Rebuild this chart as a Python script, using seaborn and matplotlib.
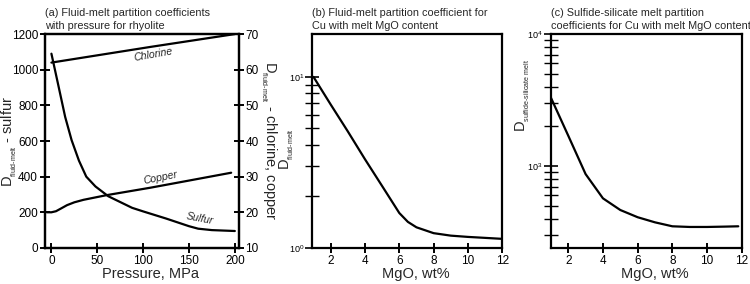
"""
Partition coefficients for sulfur, chlorine and copper (three panels).
"""

import matplotlib
matplotlib.use("Agg")
import matplotlib.pyplot as plt
from matplotlib import font_manager
import seaborn as sns
from matplotlib.ticker import LogLocator, NullFormatter

# panel (a): fluid-melt partition coefficients vs pressure (rhyolite)
pressure_sulfur = [0, 7, 15, 22, 30, 38, 48, 62, 88, 100, 125, 150, 160, 175, 200]
d_sulfur = [1090, 925, 735, 605, 490, 400, 345, 290, 225, 205, 165, 122, 108, 100, 95]

pressure_chlorine = [0, 108, 200]
d_chlorine = [62, 66.4, 70]

pressure_copper = [-5, 0, 5, 10, 17, 25, 35, 60, 108, 150, 196]
d_copper = [20, 20, 20.3, 21, 22, 22.8, 23.5, 24.8, 26.9, 28.9, 31.1]

# panel (b): fluid-melt D for Cu vs melt MgO
mgo_fluid = [1, 2, 3, 4, 5, 6, 6.5, 7, 8, 9, 10, 11, 12]
d_fluid_cu = [10, 6.9, 4.8, 3.3, 2.3, 1.6, 1.42, 1.32, 1.22, 1.18, 1.16, 1.145, 1.13]

# panel (c): sulfide-silicate melt D for Cu vs melt MgO
mgo_sulfide = [1, 2, 3, 4, 5, 6, 7, 8, 9, 10, 11, 11.8]
d_sulfide_cu = [3300, 1700, 870, 570, 465, 410, 375, 350, 346, 346, 348, 350]

titles = ["(a) Fluid-melt partition coefficients\nwith pressure for rhyolite",
          "(b) Fluid-melt partition coefficient for\nCu with melt MgO content",
          "(c) Sulfide-silicate melt partition\ncoefficients for Cu with melt MgO content"]

sns.set_theme(style="ticks")
plt.rcParams["font.family"] = ["Liberation Sans", "DejaVu Sans"]

installed = {f.name for f in font_manager.fontManager.ttflist}
LABEL_FONT = "Liberation Sans Narrow" if "Liberation Sans Narrow" in installed else "Liberation Sans"
LABEL_SIZE = 12.5 if LABEL_FONT.endswith("Narrow") else 10.5
plt.rcParams["mathtext.fontset"] = "custom"
plt.rcParams["mathtext.rm"] = LABEL_FONT
plt.rcParams["mathtext.it"] = LABEL_FONT + ":italic"

LW = 1.6
TICK_KW = dict(direction="inout", length=7, width=1.4, colors="black",
               labelsize=8.5, pad=1.5)

fig = plt.figure(figsize=(7.5, 2.84), dpi=100)
ax_a = fig.add_axes([0.060, 0.127, 0.258, 0.753])
ax_b = fig.add_axes([0.4164, 0.127, 0.2533, 0.753])
ax_c = fig.add_axes([0.7343, 0.127, 0.2547, 0.753])

for ax in (ax_a, ax_b, ax_c):
    for sp in ax.spines.values():
        sp.set_linewidth(1.6)
        sp.set_color("black")
    ax.set_facecolor("white")


def label_font(size=LABEL_SIZE):
    return dict(family=[LABEL_FONT, "DejaVu Sans"], fontsize=size)


def d_label(sub, rest=""):
    # tiny subscript, like the figure
    return r"D$_{{}_{\text{%s}}}$%s" % (sub, rest)


# ---- panel (a)
sns.lineplot(x=pressure_sulfur, y=d_sulfur, ax=ax_a, color="black", lw=LW)
ax_a.set_xlim(-7, 204)
ax_a.set_ylim(0, 1200)
ax_a.set_xticks([0, 50, 100, 150, 200])
ax_a.set_yticks(range(0, 1201, 200))
ax_a.tick_params(axis="both", **TICK_KW)
ax_a.set_xlabel("Pressure, MPa", **label_font())
ax_a.set_ylabel(d_label("fluid-melt", " - sulfur"), **label_font())
ax_a.yaxis.set_label_coords(-0.135, 0.5)

ax_a2 = ax_a.twinx()
sns.lineplot(x=pressure_chlorine, y=d_chlorine, ax=ax_a2, color="black", lw=LW)
sns.lineplot(x=pressure_copper, y=d_copper, ax=ax_a2, color="black", lw=LW)
ax_a2.set_ylim(10, 70)
ax_a2.set_yticks(range(10, 71, 10))
ax_a2.tick_params(axis="y", **TICK_KW)
ax_a2.set_ylabel(d_label("fluid-melt", " - chlorine, copper"), rotation=270,
                 va="bottom", **label_font())
ax_a2.yaxis.set_label_coords(1.105, 0.5)
for sp in ax_a2.spines.values():
    sp.set_linewidth(1.6)
    sp.set_color("black")

ax_a2.text(111, 64.3, "Chlorine", fontsize=7.6, style="italic", rotation=10,
           ha="center", va="center")
ax_a2.text(119, 29.8, "Copper", fontsize=7.6, style="italic", rotation=11,
           ha="center", va="center")
ax_a.text(162, 163, "Sulfur", fontsize=7.6, style="italic", rotation=-11,
          ha="center", va="center")

# ---- panel (b)
sns.lineplot(x=mgo_fluid, y=d_fluid_cu, ax=ax_b, color="black", lw=LW)
ax_b.set_yscale("log")
ax_b.set_xlim(0.93, 12)
ax_b.set_ylim(1, 17.8)
ax_b.set_xticks(range(2, 13, 2))
ax_b.set_xlabel("MgO, wt%", **label_font())
ax_b.set_ylabel(d_label("fluid-melt"), **label_font(10.5))
ax_b.yaxis.set_label_coords(-0.085, 0.46)

# ---- panel (c)
sns.lineplot(x=mgo_sulfide, y=d_sulfide_cu, ax=ax_c, color="black", lw=LW)
ax_c.set_yscale("log")
ax_c.set_xlim(0.99, 11.9)
ax_c.set_ylim(240, 1e4)
ax_c.set_xticks(range(2, 13, 2))
ax_c.set_xlabel("MgO, wt%", **label_font())
ax_c.set_ylabel(d_label("sulfide-silicate melt"), **label_font())
ax_c.yaxis.set_label_coords(-0.1, 0.715)

for ax in (ax_b, ax_c):
    ax.tick_params(axis="x", **TICK_KW)
    ax.tick_params(axis="y", which="major", direction="inout", length=10,
                   width=1.2, colors="black", labelsize=6.5, pad=1)
    ax.tick_params(axis="y", which="minor", direction="inout", length=10,
                   width=1.0, colors="black")
    ax.yaxis.set_major_locator(LogLocator(base=10))
    ax.yaxis.set_minor_locator(LogLocator(base=10, subs=range(2, 10)))
    ax.yaxis.set_minor_formatter(NullFormatter())

for ax, title in zip((ax_a, ax_b, ax_c), titles):
    ax.set_title(title, loc="left", fontsize=7.8, pad=4, linespacing=1.3)
    ax.xaxis.set_label_coords(0.545, -0.09)

fig.savefig("out.png", dpi=100, facecolor="white")
